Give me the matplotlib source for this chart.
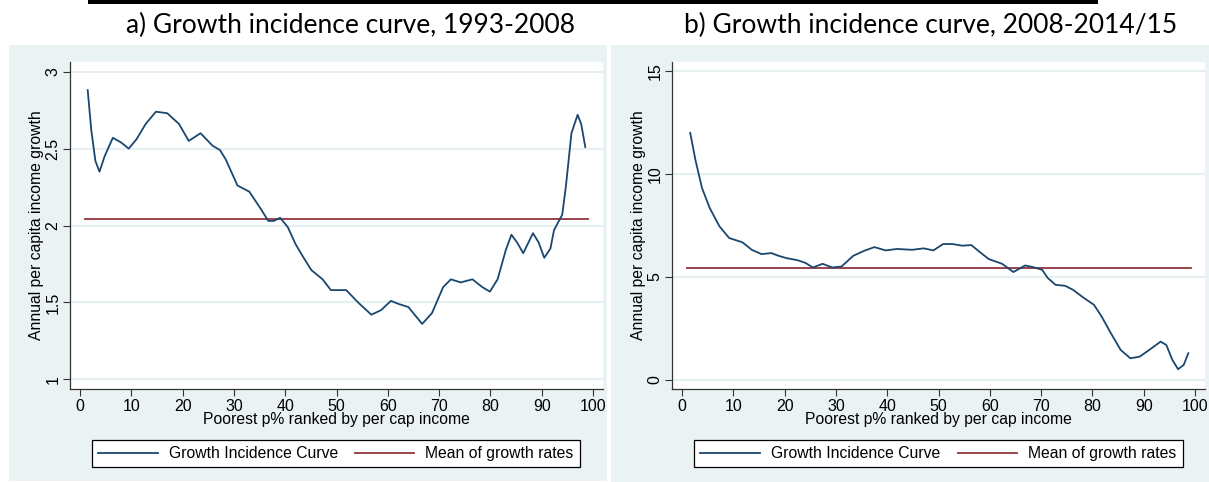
import matplotlib
matplotlib.use("Agg")
import matplotlib.pyplot as plt
from matplotlib.patches import Rectangle

# ---------------- data ----------------
pct_a = [1.5, 2.2, 3.0, 3.8, 4.8, 6.4, 8.0, 9.5, 11, 12.8, 14.8, 17, 19.3, 21.2, 23.5, 25.8,
         27.3, 28.4, 30.7, 33, 35.2, 36.7, 37.8, 39, 40.5, 42, 43.6, 45.1, 47.3, 48.9, 51.9,
         54.2, 56.8, 58.7, 60.6, 62.1, 64, 66.7, 68.6, 70.8, 72.3, 74.2, 76.5, 78.4, 79.9,
         81.4, 83, 84.1, 85.2, 86.4, 88.3, 89.4, 90.5, 91.7, 92.4, 94, 94.7, 95.8, 97,
         97.7, 98.5]
gic_a = [2.88, 2.62, 2.42, 2.35, 2.45, 2.57, 2.54, 2.50, 2.56, 2.66, 2.74, 2.73, 2.66, 2.55,
         2.60, 2.52, 2.49, 2.43, 2.26, 2.22, 2.11, 2.03, 2.03, 2.05, 1.99, 1.88, 1.79, 1.71,
         1.65, 1.58, 1.58, 1.50, 1.42, 1.45, 1.51, 1.49, 1.47, 1.36, 1.43, 1.60, 1.65, 1.63,
         1.65, 1.60, 1.57, 1.65, 1.84, 1.94, 1.89, 1.82, 1.95, 1.89, 1.79, 1.85, 1.97, 2.07,
         2.25, 2.60, 2.72, 2.66, 2.51]
mean_a = 2.04
mean_range_a = [1.0, 99.0]

pct_b = [1.6, 2.6, 3.9, 5.4, 7.3, 9.2, 10.6, 11.8, 13.6, 15.5, 17.4, 18.8, 20.3, 22.6, 24.1,
         25.5, 27.4, 29.3, 31.1, 33.4, 35.6, 37.5, 39.7, 41.9, 44.9, 47.1, 49, 50.9, 52.7,
         54.6, 56.4, 57.9, 59.8, 62.4, 64.6, 66.9, 68.4, 70.2, 71.3, 72.8, 74.7, 76.2, 78.4,
         80.3, 81.8, 83.6, 85.5, 87.4, 89.2, 91.1, 93.3, 94.4, 95.6, 96.7, 97.8, 98.7]
gic_b = [12.0, 10.7, 9.32, 8.35, 7.46, 6.89, 6.78, 6.68, 6.32, 6.11, 6.16, 6.03, 5.92, 5.81,
         5.68, 5.46, 5.64, 5.46, 5.51, 6.03, 6.28, 6.45, 6.29, 6.36, 6.32, 6.39, 6.29, 6.60,
         6.60, 6.52, 6.55, 6.24, 5.87, 5.64, 5.24, 5.56, 5.48, 5.35, 4.95, 4.62, 4.57, 4.38,
         3.97, 3.65, 3.08, 2.27, 1.46, 1.05, 1.13, 1.46, 1.86, 1.70, 0.97, 0.52, 0.73, 1.30]
mean_b = 5.43
mean_range_b = [1.0, 99.3]

titles = ["a) Growth incidence curve, 1993-2008", "b) Growth incidence curve, 2008-2014/15"]
xlabel = "Poorest p% ranked by per cap income"
ylabel = "Annual per capita income growth"
legend_labels = ["Growth Incidence Curve", "Mean of growth rates"]
xticks = [0, 10, 20, 30, 40, 50, 60, 70, 80, 90, 100]
yticks_a = [1, 1.5, 2, 2.5, 3]
yticklabels_a = ["1", "1.5", "2", "2.5", "3"]
yticks_b = [0, 5, 10, 15]
yticklabels_b = ["0", "5", "10", "15"]

# ---------------- style ----------------
W, H = 1209, 482
NAVY = "#1a476f"
MAROON = "#90353b"
BG = "#eaf2f3"
GRID = "#e6eff1"

plt.rcParams["font.family"] = ["Liberation Sans", "DejaVu Sans"]
fig = plt.figure(figsize=(W / 100, H / 100), dpi=100)
fig.patch.set_facecolor("white")

def fx(px):
    return px / W

def fy(py):
    return 1 - py / H

# top black rule
fig.add_artist(Rectangle((fx(88), fy(4)), fx(1098) - fx(88), 4 / H,
                         transform=fig.transFigure, facecolor="black", edgecolor="none"))

panels = [
    dict(bg=(9, 45, 607, 481), ax=(70, 62, 603, 389), title_x=350,
         pct=pct_a, gic=gic_a, mean=mean_a, mr=mean_range_a,
         ylim=(0.937, 3.063), yt=yticks_a, ytl=yticklabels_a, leg=(92, 439, 580, 468)),
    dict(bg=(611, 45, 1209, 482), ax=(672, 62, 1205, 389), title_x=931,
         pct=pct_b, gic=gic_b, mean=mean_b, mr=mean_range_b,
         ylim=(-0.44, 15.44), yt=yticks_b, ytl=yticklabels_b, leg=(694, 439, 1183, 468)),
]

for i, p in enumerate(panels):
    x0, y0, x1, y1 = p["bg"]
    fig.add_artist(Rectangle((fx(x0), fy(y1)), fx(x1) - fx(x0), (y1 - y0) / H,
                             transform=fig.transFigure, facecolor=BG, edgecolor="none",
                             zorder=0))
    fig.text(fx(p["title_x"]), fy(25), titles[i], ha="center", va="center",
             fontsize=19, family=["Lato", "DejaVu Sans"], color="black")

    a0, b0, a1, b1 = p["ax"]
    ax = fig.add_axes([fx(a0), fy(b1), fx(a1) - fx(a0), (b1 - b0) / H])
    ax.set_facecolor("white")
    ax.set_xlim(-1.95, 101.95)
    ax.set_ylim(*p["ylim"])
    for yv in p["yt"]:
        ax.axhline(yv, color=GRID, lw=1.6, zorder=1)
    l1, = ax.plot(p["pct"], p["gic"], color=NAVY, lw=1.3, zorder=3,
                  solid_joinstyle="round")
    l2, = ax.plot(p["mr"], [p["mean"], p["mean"]], color=MAROON, lw=1.3, zorder=2)

    ax.set_xticks(xticks)
    ax.set_xticklabels([str(t) for t in xticks])
    ax.set_yticks(p["yt"])
    ax.set_yticklabels(p["ytl"], rotation=90, va="center")
    ax.tick_params(axis="both", direction="out", length=5, width=0.8, color="#333333",
                   labelsize=11.5, pad=2)
    for s in ["top", "right"]:
        ax.spines[s].set_visible(False)
    for s in ["left", "bottom"]:
        ax.spines[s].set_color("#333333")
        ax.spines[s].set_linewidth(0.9)
    ax.set_xlabel(xlabel, fontsize=11.3, labelpad=-1)
    ax.set_ylabel(ylabel, fontsize=11.3, labelpad=1)

    g0, h0, g1, h1 = p["leg"]
    leg = ax.legend([l1, l2], legend_labels, ncol=2, loc="center",
                    bbox_to_anchor=(fx(g0), fy(h1), fx(g1) - fx(g0), (h1 - h0) / H),
                    bbox_transform=fig.transFigure, mode="expand", borderaxespad=0,
                    fontsize=11.3, handlelength=3.8, frameon=True, fancybox=False,
                    columnspacing=1.0, handletextpad=0.7, borderpad=0.4)
    leg.get_frame().set_edgecolor("black")
    leg.get_frame().set_linewidth(0.9)
    leg.get_frame().set_facecolor("white")
    leg.get_frame().set_alpha(1)

fig.savefig("out.png", dpi=100)
